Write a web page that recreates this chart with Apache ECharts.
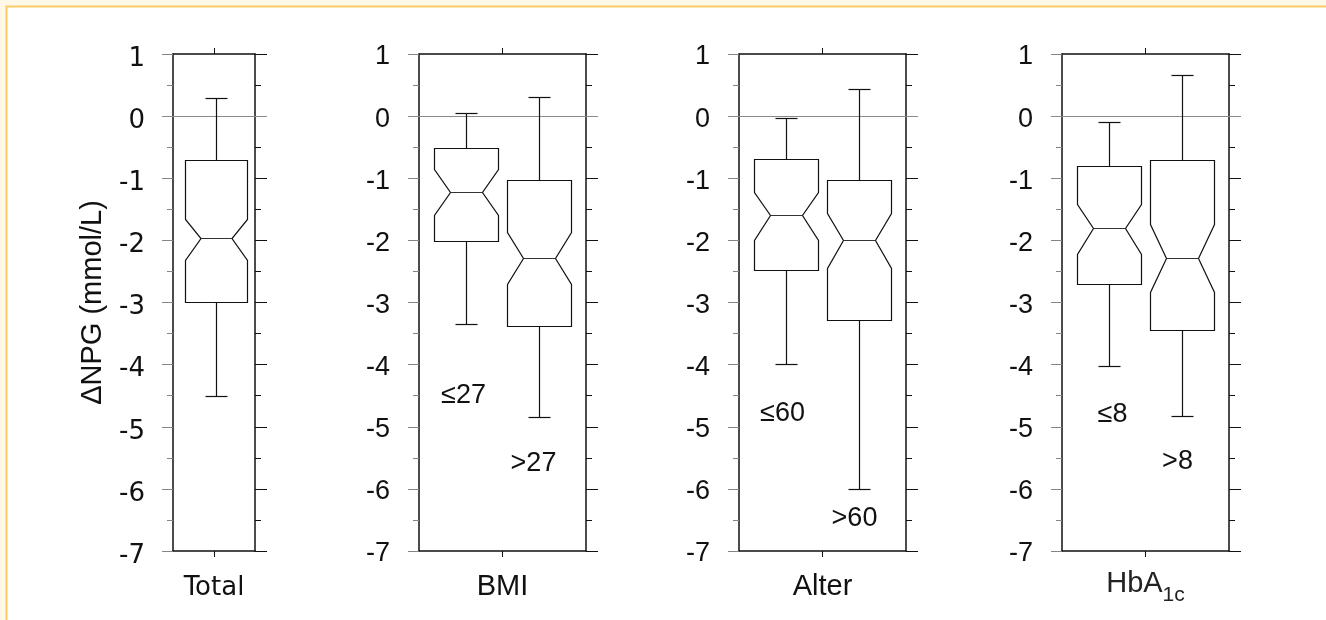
<!DOCTYPE html>
<html><head><meta charset="utf-8">
<script src="https://cdn.jsdelivr.net/npm/echarts@6/dist/echarts.min.js"></script>
<style>html,body{margin:0;padding:0;background:#FFF7E8}#c{width:1326px;height:620px}</style>
</head><body><div id="c"></div>
<script>
// ---- data ----
const groups = ['Total', 'BMI', 'Alter', 'HbA1c'];
const subgroupLabels = [[''], ['≤27', '>27'], ['≤60', '>60'], ['≤8', '>8']];
// each box: [lower whisker, Q1, notch low, median, notch high, Q3, upper whisker]
const totalStats = [[-4.50, -2.99, -2.32, -1.96, -1.65, -0.71, 0.29]];
const bmiStats   = [[-3.34, -2.01, -1.59, -1.22, -0.85, -0.51, 0.05],
                    [-4.84, -3.38, -2.70, -2.29, -1.87, -1.03, 0.30]];
const alterStats = [[-3.99, -2.48, -2.00, -1.59, -1.22, -0.69, -0.03],
                    [-6.01, -3.28, -2.44, -2.00, -1.56, -1.03, 0.43]];
const hbaStats   = [[-4.03, -2.70, -2.22, -1.80, -1.42, -0.81, -0.10],
                    [-4.83, -3.45, -2.83, -2.28, -1.73, -0.71, 0.66]];
const yMin = -7, yMax = 1, yStep = 1;
const yTickLabels = ['-7', '-6', '-5', '-4', '-3', '-2', '-1', '0', '1'];
const refLineValue = 0;
const allStats = [totalStats, bmiStats, alterStats, hbaStats];

// ---- layout ----
const ARIAL = 'Liberation Sans, Arial, sans-serif';
const VERD = 'DejaVu Sans, Verdana, sans-serif';
const gridTop = 54, gridHeight = 497;
const layout = [
  {left: 173, width: 82, slots: [0.52], boxW: 62, tickFont: VERD, tickSize: 26, tickShift: 5, tickMargin: 28,
   nameFont: VERD, nameSize: 26, nameMargin: 24, labelAt: [[0, 0]]},
  {left: 419, width: 167, slots: [0.28, 0.72], boxW: 64, tickFont: ARIAL, tickSize: 27, tickShift: 3, tickMargin: 29,
   nameFont: ARIAL, nameSize: 29, nameMargin: 21, labelAt: [[-3, -4.49], [-6, -5.6]]},
  {left: 739, width: 167, slots: [0.28, 0.72], boxW: 64, tickFont: ARIAL, tickSize: 27, tickShift: 3, tickMargin: 29,
   nameFont: ARIAL, nameSize: 29, nameMargin: 21, labelAt: [[-4, -4.79], [-5, -6.47]]},
  {left: 1062, width: 167, slots: [0.28, 0.72], boxW: 64, tickFont: ARIAL, tickSize: 27, tickShift: 3, tickMargin: 29,
   nameFont: ARIAL, nameSize: 29, nameMargin: 18, labelAt: [[3, -4.81], [-5, -5.56]]}
];
const INK = '#111';
const GRAY = '#858585';

const grid = [], xAxis = [], yAxis = [], series = [];
layout.forEach((L, p) => {
  grid.push({left: L.left, width: L.width, top: gridTop, height: gridHeight, outerBoundsMode: 'none', containLabel: false});
  const isHb = groups[p] === 'HbA1c';
  xAxis.push({
    type: 'category', gridIndex: p, position: 'bottom', data: [groups[p]],
    axisLine: {show: true, onZero: false, lineStyle: {color: INK, width: 1.5}},
    axisTick: {show: true, alignWithLabel: true, length: 6, lineStyle: {color: INK, width: 1}},
    axisLabel: isHb ? {
      margin: L.nameMargin, color: '#222',
      formatter: () => '{m|HbA}{s|1c}',
      rich: {
        m: {fontFamily: L.nameFont, fontSize: L.nameSize, verticalAlign: 'top', color: '#222'},
        s: {fontFamily: L.nameFont, fontSize: 21, verticalAlign: 'top', padding: [16, 0, 0, 0], color: '#222'}
      }
    } : {margin: L.nameMargin, color: INK, fontFamily: L.nameFont, fontSize: L.nameSize},
    splitLine: {show: false}
  });
  xAxis.push({
    type: 'category', gridIndex: p, position: 'top', data: [groups[p]],
    axisLine: {show: true, onZero: false, lineStyle: {color: INK, width: 1.5}},
    axisTick: {show: true, alignWithLabel: true, length: 6, lineStyle: {color: INK, width: 1}},
    axisLabel: {show: false}, splitLine: {show: false}
  });
  const yBase = {
    type: 'value', gridIndex: p, min: yMin, max: yMax, interval: yStep,
    splitLine: {show: false}
  };
  yAxis.push(Object.assign({}, yBase, {
    position: 'left',
    name: p === 0 ? 'ΔNPG (mmol/L)' : '',
    nameLocation: 'middle', nameGap: 66, nameRotate: 90,
    nameTextStyle: {fontFamily: ARIAL, fontSize: 29, color: INK},
    axisLine: {show: true, onZero: false, lineStyle: {color: INK, width: 1.5}},
    axisTick: {show: true, length: 11, lineStyle: {color: GRAY, width: 1}},
    minorTick: {show: true, splitNumber: 2, length: 6, lineStyle: {color: GRAY, width: 1}},
    axisLabel: {
      margin: L.tickMargin, color: INK, fontFamily: L.tickFont, fontSize: L.tickSize,
      verticalAlign: 'top', lineHeight: L.tickShift * 2,
      formatter: v => yTickLabels[Math.round((v - yMin) / yStep)]
    }
  }));
  yAxis.push(Object.assign({}, yBase, {
    position: 'right',
    axisLine: {show: true, onZero: false, lineStyle: {color: INK, width: 1.5}},
    axisTick: {show: true, length: 12, lineStyle: {color: INK, width: 1}},
    minorTick: {show: true, splitNumber: 2, length: 6, lineStyle: {color: INK, width: 1}},
    axisLabel: {show: false}
  }));

  allStats[p].forEach((stats, b) => {
    const slot = L.slots[b];
    const lab = subgroupLabels[p][b];
    const labPos = L.labelAt[b];
    series.push({
      type: 'custom', xAxisIndex: p * 2, yAxisIndex: p * 2,
      data: [[0].concat(stats)],
      encode: {x: 0, y: [1, 2, 3, 4, 5, 6, 7]},
      silent: true, animation: false, clip: false,
      renderItem: (params, api) => {
        const cs = params.coordSys;
        const cx = Math.round(cs.x + slot * cs.width) + 0.5;
        const Y = v => Math.round(api.coord([0, v])[1]) + 0.5;
        const wl = Y(api.value(1)), q1 = Y(api.value(2)), nl = Y(api.value(3)),
              md = Y(api.value(4)), nh = Y(api.value(5)), q3 = Y(api.value(6)), wh = Y(api.value(7));
        const hw = L.boxW / 2, l = cx - hw, r = cx + hw, ind = L.boxW * 0.25, cap = 11;
        const st = {stroke: INK, fill: 'none', lineWidth: 1.2};
        const children = [];
        if (b === 0) {
          const z0 = Y(refLineValue);
          children.push({type: 'line', z2: -1, shape: {x1: cs.x - 11, y1: z0, x2: cs.x + cs.width + 12, y2: z0},
                         style: {stroke: '#8a8a8a', lineWidth: 1}});
        }
        children.push(
          {type: 'polygon', shape: {points: [[l, q3], [r, q3], [r, nh], [r - ind, md], [r, nl], [r, q1],
                                             [l, q1], [l, nl], [l + ind, md], [l, nh]]}, style: st},
          {type: 'line', shape: {x1: l + ind, y1: md, x2: r - ind, y2: md}, style: {stroke: '#333', lineWidth: 1}},
          {type: 'line', shape: {x1: cx, y1: q3, x2: cx, y2: wh}, style: st},
          {type: 'line', shape: {x1: cx - cap, y1: wh, x2: cx + cap, y2: wh}, style: st},
          {type: 'line', shape: {x1: cx, y1: q1, x2: cx, y2: wl}, style: st},
          {type: 'line', shape: {x1: cx - cap, y1: wl, x2: cx + cap, y2: wl}, style: st}
        );
        if (lab) {
          children.push({type: 'text', style: {
            text: lab, x: cx + labPos[0], y: api.coord([0, labPos[1]])[1],
            align: 'center', verticalAlign: 'middle',
            fontFamily: ARIAL, fontSize: 27, fill: INK
          }});
        }
        return {type: 'group', children};
      }
    });
  });
});

const chart = echarts.init(document.getElementById('c'), null, {renderer: 'canvas'});
chart.setOption({
  backgroundColor: '#FFF7E8',
  animation: false,
  graphic: [{
    type: 'rect', z: -100, silent: true,
    shape: {x: 6.5, y: 6.5, width: 1500, height: 800},
    style: {fill: '#ffffff', stroke: '#FDCB66', lineWidth: 2}
  }],
  grid, xAxis, yAxis, series
});
</script></body></html>
